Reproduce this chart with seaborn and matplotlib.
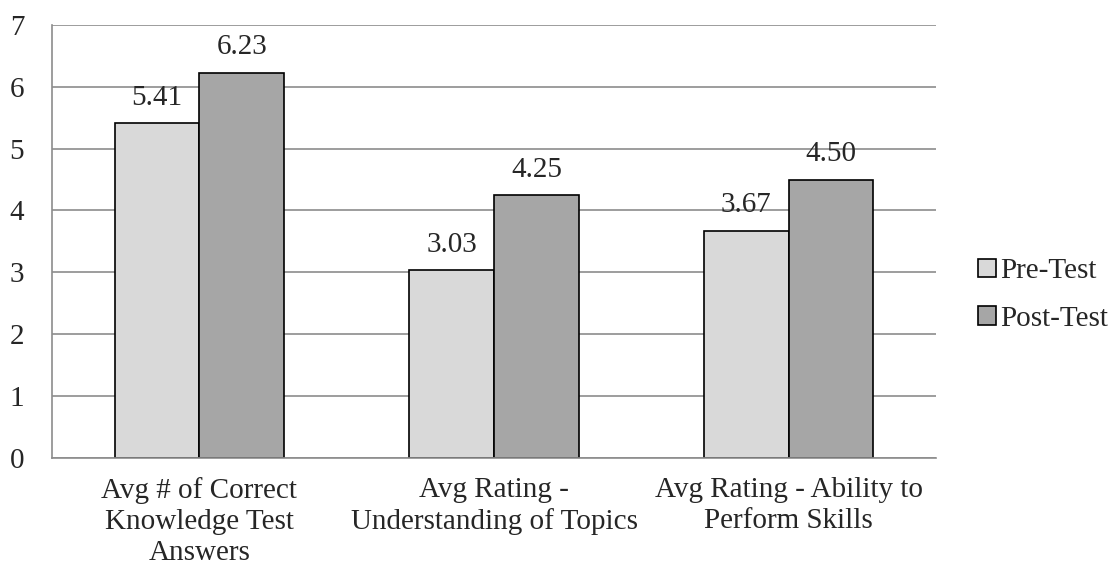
import pandas as pd
import seaborn as sns
import matplotlib.pyplot as plt

# 数据
categories = ['Avg # of Correct\nKnowledge Test\nAnswers',
              'Avg Rating -\nUnderstanding of Topics',
              'Avg Rating - Ability to\nPerform Skills']
pre_test = [5.41, 3.03, 3.67]
post_test = [6.23, 4.25, 4.50]
series = ['Pre-Test', 'Post-Test']
y_ticks = [0, 1, 2, 3, 4, 5, 6, 7]

df = pd.DataFrame({
    'category': categories * 2,
    'value': pre_test + post_test,
    'series': [series[0]] * 3 + [series[1]] * 3,
})

sns.set_style('white')
plt.rcParams['font.family'] = ['Liberation Serif', 'DejaVu Serif']
fs = 21

fig = plt.figure(figsize=(11.12, 5.66), dpi=100)
ax = fig.add_axes([0.0468, 0.191, 0.795, 0.765])

sns.barplot(data=df, x='category', y='value', hue='series', ax=ax,
            palette=['#d9d9d9', '#a6a6a6'], width=0.575, gap=0,
            edgecolor='black', linewidth=1.2, saturation=1, legend=True)

# 数值标签
for cont in ax.containers:
    ax.bar_label(cont, fmt='%.2f', padding=9, fontsize=fs)

ax.set_ylim(0, 7)
ax.set_yticks(y_ticks)
ax.set_xlim(-0.5, 2.5)
ax.set_xlabel('')
ax.set_ylabel('')
ax.yaxis.grid(True, color='#8c8c8c', linewidth=1.2)
ax.set_axisbelow(True)
for s in ['top', 'right']:
    ax.spines[s].set_visible(False)
for s in ['left', 'bottom']:
    ax.spines[s].set_color('#8c8c8c')
    ax.spines[s].set_linewidth(1.2)

ax.tick_params(axis='y', length=6, color='#8c8c8c', width=1.2, labelsize=fs, pad=14)
ax.tick_params(axis='x', which='major', length=0, labelsize=fs, pad=14)
ax.set_xticks([-0.5, 0.5, 1.5, 2.5], minor=True)
ax.tick_params(axis='x', which='minor', length=7, color='#8c8c8c', width=1.2)
for t in ax.get_xticklabels():
    t.set_linespacing(1.24)

ax.legend(loc='center left', bbox_to_anchor=(978 / 1112, 1 - 295 / 566),
          bbox_transform=fig.transFigure, frameon=False,
          fontsize=fs, handlelength=0.6, handleheight=0.6, handletextpad=0.15,
          labelspacing=0.74, borderaxespad=0, borderpad=0)

plt.savefig('out.png', dpi=100)
